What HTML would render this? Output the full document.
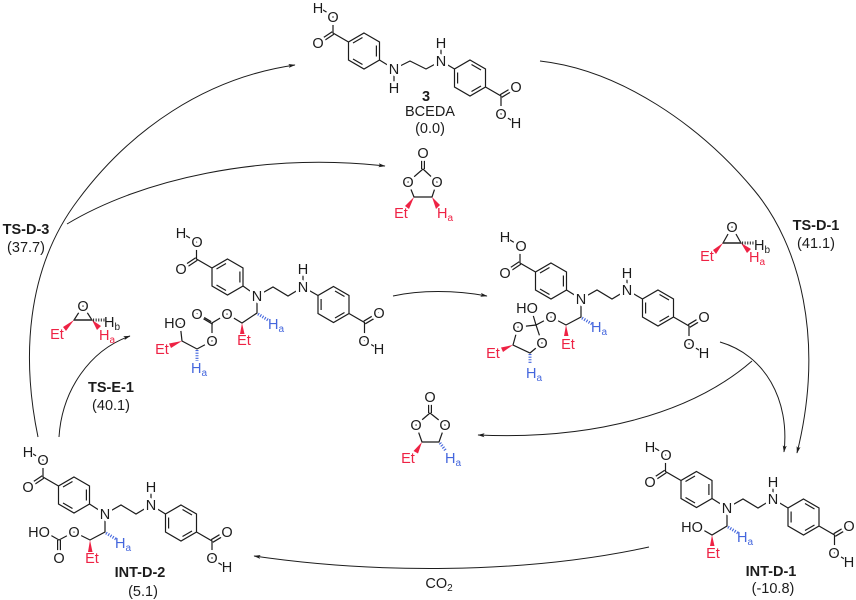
<!DOCTYPE html>
<html><head><meta charset="utf-8"><style>
html,body{margin:0;padding:0;background:#fff}
svg{display:block}
text{font-family:"Liberation Sans",sans-serif;font-size:14.5px;text-anchor:middle;fill:#1c1c1c;stroke:#fff;stroke-width:6px;paint-order:stroke;stroke-linejoin:round}
text.n{stroke-width:2px}
.r{fill:#ee2244}.b{fill:#4466dd}
.l{stroke:none}.bd{font-weight:bold}
.s{font-size:10px}
.bond{fill:none;stroke:#1c1c1c;stroke-width:1.2}
.arc{fill:none;stroke:#1c1c1c;stroke-width:1}
.hb{stroke:#4466dd;stroke-width:3;stroke-dasharray:1.1 1.5;fill:none}
.hk{stroke:#333;stroke-width:3;stroke-dasharray:1.1 1.5;fill:none}
</style></head><body>
<svg width="856" height="600" viewBox="0 0 856 600" xmlns="http://www.w3.org/2000/svg">
<defs>
<marker id="ah" markerUnits="userSpaceOnUse" markerWidth="10" markerHeight="8" refX="6.5" refY="4" orient="auto"><path d="M0,2 L7,4 L0,6 L1.5,4 Z" fill="#1c1c1c"/></marker>
<g id="r1" class="bond"><path d="M0,-18 L15.5,-9 L15.5,9 L0,18 L-15.5,9 L-15.5,-9 Z M-11,-8 L-1.5,-13.5 M12.4,-5.5 L12.4,5.5 M-11,8 L-1.5,13.5 M-15.5,-9 L-31,-18 L-31,-35 L-46,-44 M-30.2,-16.7 L-45.2,-6.7 M-31.8,-19.3 L-46.8,-9.3"/></g>
<g id="r2" class="bond"><path d="M0,-18 L15.5,-9 L15.5,9 L0,18 L-15.5,9 L-15.5,-9 Z M-12.4,-5.5 L-12.4,5.5 M1.5,-13.5 L11,-8 M1.5,13.5 L11,8 M15.5,9 L31,18 L31,36 L46,45 M31.8,19.3 L46.8,10.3 M30.2,16.7 L45.2,7.7"/></g>
</defs>

<!-- arrows -->
<path class="arc" marker-end="url(#ah)" d="M38,437 C 22,360 25,270 78,200 C 130,130 205,78 295,65"/>
<path class="arc" marker-end="url(#ah)" d="M67,224 C 140,180 260,152 385,166"/>
<path class="arc" marker-end="url(#ah)" d="M59,437 C 62,390 90,350 130,336"/>
<path class="arc" marker-end="url(#ah)" d="M540,61 C 620,70 700,125 754,190 C 800,245 825,340 797,453"/>
<path class="arc" marker-end="url(#ah)" d="M393,296 C 420,290 455,290 487,296"/>
<path class="arc" marker-end="url(#ah)" d="M720,342 C 765,355 790,400 784,452"/>
<path class="arc" marker-end="url(#ah)" d="M752,361 C 690,415 590,440 478,435"/>
<path class="arc" marker-end="url(#ah)" d="M649,547 C 520,575 370,573 254,556"/>

<!-- Compound 3 -->
<use href="#r1" x="364" y="51"/><use href="#r2" x="470" y="78"/>
<path class="bond" d="M379.5,60 L394,69 L410,61 L426,69 L441,61 L454.5,69 M394,69 L394,88 M441,61 L441,43"/>
<text class="n" x="318" y="13">H</text><text x="333" y="22">O</text><text x="318" y="48">O</text>
<text x="394" y="74">N</text><text x="394" y="93">H</text><text x="441" y="66">N</text><text x="441" y="48">H</text>
<text x="516" y="92">O</text><text x="501" y="119">O</text><text class="n" x="516" y="128">H</text>
<text class="l bd" x="426" y="101">3</text><text class="l" x="430" y="116">BCEDA</text><text class="l" x="430" y="133">(0.0)</text>

<!-- carbonate top -->
<path class="bond" d="M421.6,169 L421.6,153 M424.4,169 L424.4,153 M423,169 L408,182 L414,197 L432,197 L437,182 L423,169"/>
<polygon points="414,197 405,206 409,209" fill="#ee2244"/><polygon points="432,197 436,209 440,205" fill="#ee2244"/>
<text x="423" y="158">O</text><text x="408" y="187">O</text><text x="437" y="187">O</text>
<text class="l r" x="401" y="218">Et</text><text class="l r" x="445" y="218">H<tspan class="s" dy="3">a</tspan></text>

<!-- right epoxide -->
<path class="bond" d="M723,243 L741,243 L732,227 Z"/>
<path d="M723,243 L741,243" stroke="#333" stroke-width="1.4"/>
<polygon points="723,243 713,250 716,254" fill="#ee2244"/><polygon points="741,243 747,253 751,249" fill="#ee2244"/>
<path class="hk" d="M742,243 L755,243"/>
<text x="732" y="232">O</text>
<text class="l r" x="707" y="261">Et</text><text class="l" x="762" y="250">H<tspan class="s" dy="3">b</tspan></text><text class="l r" x="757" y="262">H<tspan class="s" dy="3">a</tspan></text>
<text class="l bd" x="816" y="230">TS-D-1</text><text class="l" x="816" y="248">(41.1)</text>

<!-- left epoxide -->
<path class="bond" d="M74,320 L92,320 L83,306 Z"/>
<path d="M74,320 L92,320" stroke="#333" stroke-width="1.4"/>
<polygon points="74,320 63,327 66,331" fill="#ee2244"/><polygon points="92,320 97,330 101,326" fill="#ee2244"/>
<path class="hk" d="M93,320 L105,320"/>
<text x="83" y="311">O</text>
<text class="l r" x="57" y="339">Et</text><text class="l" x="112" y="327">H<tspan class="s" dy="3">b</tspan></text><text class="l r" x="107" y="340">H<tspan class="s" dy="3">a</tspan></text>
<text class="l bd" x="26" y="234">TS-D-3</text><text class="l" x="26" y="252">(37.7)</text>
<text class="l bd" x="111" y="392">TS-E-1</text><text class="l" x="111" y="410">(40.1)</text>

<!-- Molecule A -->
<use href="#r1" x="227.5" y="277"/><use href="#r2" x="333.5" y="304.5"/>
<path class="bond" d="M243,286 L257,296 L273,287 L288,296 L303,287 L318,295.5 M303,287 L303,269 M257,296 L257,313 L242,323 L227,314 L212,323 L212,341 L197,349 L182,341 L180,323 M212.8,324.3 L197.8,315.3 M211.2,321.7 L196.2,312.7"/>
<polygon points="242,323 240,334 244.5,334" fill="#ee2244"/><polygon points="182,341 169,343.5 171,348" fill="#ee2244"/>
<path class="hb" d="M258,314 L268,320"/><path class="hb" d="M197,350 L197,361"/>
<text class="n" x="181" y="238">H</text><text x="197" y="247">O</text><text x="181" y="274">O</text>
<text x="257" y="301">N</text><text x="303" y="292">N</text><text x="303" y="274">H</text>
<text x="379" y="318">O</text><text x="364" y="346">O</text><text class="n" x="379" y="354">H</text>
<text x="227" y="319">O</text><text x="197" y="319">O</text><text x="212" y="346">O</text><text x="175" y="328">HO</text>
<text class="l r" x="244" y="345">Et</text><text class="l r" x="162" y="354">Et</text>
<text class="l b" x="276" y="329">H<tspan class="s" dy="3">a</tspan></text><text class="l b" x="199" y="373">H<tspan class="s" dy="3">a</tspan></text>

<!-- Molecule B -->
<use href="#r1" x="551" y="281"/><use href="#r2" x="658" y="308"/>
<path class="bond" d="M566.5,290 L581,299 L597,290 L612,299 L627,290 L642.5,299 M627,290 L627,273 M581,299 L581,317 L566,325 L551,317 L536,325 L518,327 L513,345 L530,353 L542,343 L536,325 L531,308"/>
<polygon points="566,325 564,336 568.5,336" fill="#ee2244"/><polygon points="513,345 501,347.5 503,352" fill="#ee2244"/>
<path class="hb" d="M582,318 L592,324"/><path class="hb" d="M530,354 L530,364"/>
<text class="n" x="505" y="242">H</text><text x="521" y="251">O</text><text x="505" y="278">O</text>
<text x="581" y="304">N</text><text x="627" y="295">N</text><text x="627" y="278">H</text>
<text x="704" y="322">O</text><text x="689" y="349">O</text><text class="n" x="704" y="358">H</text>
<text x="551" y="322">O</text><text x="527" y="313">HO</text><text x="518" y="332">O</text><text x="542" y="348">O</text>
<text class="l r" x="568" y="349">Et</text><text class="l r" x="493" y="358">Et</text>
<text class="l b" x="599" y="332">H<tspan class="s" dy="3">a</tspan></text><text class="l b" x="534" y="378">H<tspan class="s" dy="3">a</tspan></text>

<!-- carbonate bottom -->
<path class="bond" d="M428.6,413 L428.6,397 M431.4,413 L431.4,397 M430,413 L416,425 L422,442 L439,442 L445,425 L430,413"/>
<polygon points="422,442 413.5,451 418,453.5" fill="#ee2244"/>
<path class="hb" d="M440,443 L446,451"/>
<text x="430" y="402">O</text><text x="416" y="430">O</text><text x="445" y="430">O</text>
<text class="l r" x="408" y="463">Et</text><text class="l b" x="453" y="463">H<tspan class="s" dy="3">a</tspan></text>

<!-- INT-D-1 -->
<use href="#r1" x="696.5" y="489.5"/><use href="#r2" x="803.5" y="517"/>
<path class="bond" d="M712,498.5 L727,508 L743,499 L758,508 L773,499 L788,508 M773,499 L773,482 M727,508 L727,526 L712,535 L698,527"/>
<polygon points="712,535 710,546 714.5,546" fill="#ee2244"/>
<path class="hb" d="M728,527 L738,533"/>
<text class="n" x="650" y="452">H</text><text x="666" y="460">O</text><text x="650" y="487">O</text>
<text x="727" y="513">N</text><text x="773" y="504">N</text><text x="773" y="487">H</text>
<text x="849" y="531">O</text><text x="834" y="558">O</text><text class="n" x="849" y="567">H</text>
<text x="692" y="532">HO</text>
<text class="l r" x="713" y="558">Et</text><text class="l b" x="745" y="542">H<tspan class="s" dy="3">a</tspan></text>
<text class="l bd" x="771" y="576">INT-D-1</text><text class="l" x="773" y="593">(-10.8)</text>

<!-- INT-D-2 -->
<use href="#r1" x="74" y="495"/><use href="#r2" x="181" y="523"/>
<path class="bond" d="M89.5,504 L105,514 L121,505 L136,514 L151,505 L165.5,514 M151,505 L151,487 M105,514 L105,532 L90,540 L74,532 L59,540 L45,532 M57.6,540 L57.6,558 M60.4,540 L60.4,558"/>
<polygon points="90,540 88,552 92.5,552" fill="#ee2244"/>
<path class="hb" d="M106,533 L116,539"/>
<text class="n" x="28" y="457">H</text><text x="43" y="465">O</text><text x="28" y="492">O</text>
<text x="105" y="519">N</text><text x="151" y="510">N</text><text x="151" y="492">H</text>
<text x="227" y="537">O</text><text x="212" y="563">O</text><text class="n" x="227" y="572">H</text>
<text x="74" y="537">O</text><text x="59" y="563">O</text><text x="39" y="537">HO</text>
<text class="l r" x="92" y="563">Et</text><text class="l b" x="123" y="548">H<tspan class="s" dy="3">a</tspan></text>
<text class="l bd" x="140" y="577">INT-D-2</text><text class="l" x="143" y="596">(5.1)</text>

<text class="l" x="439" y="588">CO<tspan class="s" dy="3">2</tspan></text>
</svg>
</body></html>
